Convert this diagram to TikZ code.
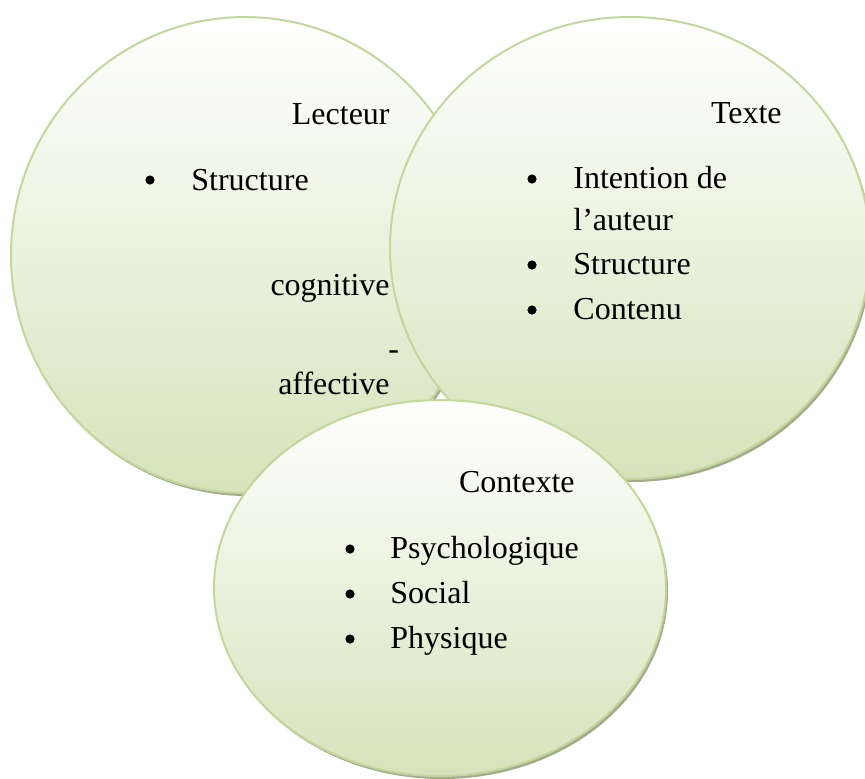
\documentclass[tikz,border=0pt]{standalone}
\usepackage{fontspec}
\setmainfont{Liberation Serif}
\usetikzlibrary{shapes.geometric,shadows}

\definecolor{bordvert}{RGB}{195,214,155}
\definecolor{fondvert}{RGB}{214,227,186}
\definecolor{ombre}{RGB}{162,172,140}

\tikzset{
  bulle/.style={ellipse, draw=bordvert, line width=1pt, inner sep=0pt,
    top color=white, bottom color=fondvert,
    drop shadow={shadow xshift=1pt, shadow yshift=-1.5pt, fill=ombre, opacity=1}},
  txt/.style={inner sep=0pt, font=\fontsize{16}{19}\selectfont},
  puce/.style={circle, fill=black, inner sep=0pt, minimum size=4.6pt}
}

\begin{document}
\begin{tikzpicture}[x=0.5pt, y=-0.5pt]
  \clip (0,0) rectangle (865,778);

  % Lecteur
  \node[bulle, minimum width=234pt, minimum height=238pt] (lecteur) at (245,255) {};
  \node[txt, anchor=base east] (lTitre) at (390,124) {Lecteur};
  \node[puce] (lp1) at (150,180) {};
  \node[txt, anchor=base west] (l1) at (191,190) {Structure};
  \node[txt, anchor=base west] (lTiret1) at (388,258) {-};
  \node[txt, anchor=base east] (l2) at (390,295) {cognitive};
  \node[txt, anchor=base west] (lTiret2) at (388,359) {-};
  \node[txt, anchor=base east] (l3) at (390,394) {affective};

  % Texte
  \node[bulle, minimum width=240pt, minimum height=231pt] (texte) at (630,248) {};
  \node[txt, anchor=base east] (tTitre) at (782,123) {Texte};
  \foreach \y/\mot [count=\i] in {188/Intention de, 274/Structure, 319/Contenu}
    \node[puce] (tp\i) at (532,\y-9) {};
  \foreach \y/\mot [count=\i] in {188/Intention de, 230/l’auteur, 274/Structure, 319/Contenu}
    \node[txt, anchor=base west] (t\i) at (573,\y) {\mot};

  % Contexte
  \node[bulle, minimum width=226pt, minimum height=188pt] (contexte) at (440,588) {};
  \node[txt, anchor=base east] (cTitre) at (575,492) {Contexte};
  \foreach \y/\mot [count=\i] in {558/Psychologique, 603/Social, 648/Physique} {
    \node[puce] (cp\i) at (350,\y-9) {};
    \node[txt, anchor=base west] (c\i) at (390,\y) {\mot};
  }

\end{tikzpicture}
\end{document}
